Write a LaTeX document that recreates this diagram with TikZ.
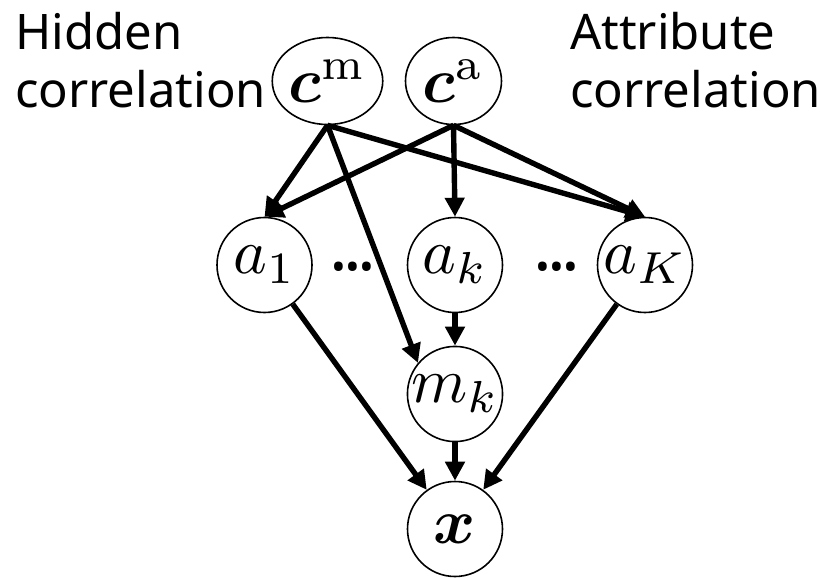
\documentclass[tikz,border=0pt]{standalone}
\usepackage{amsmath}
\usepackage{bm}
\usepackage{graphicx}
\usepackage{fontspec}
\newfontfamily\labelfont{Noto Sans}
\usetikzlibrary{arrows.meta,shapes.geometric}
\newcommand{\varlabel}[1]{\scalebox{6.4}{\normalsize$#1$}}
\newcommand{\mydotrow}{.\kern-5pt.\kern-5pt.}
\begin{document}
\begin{tikzpicture}[x=1pt,y=-1pt,
  var/.style={draw,circle,line width=1.6pt,minimum size=95pt,inner sep=0pt},
  topvar/.style={draw,ellipse,line width=1.6pt,minimum width=96pt,minimum height=87pt,inner sep=0pt},
  lbl/.style={anchor=base west,inner sep=0pt,font=\labelfont\fontsize{49}{57}\selectfont},
  dots/.style={inner sep=0pt,font=\labelfont\fontsize{70}{70}\selectfont\bfseries},
  edge/.style={line width=5.4pt,-{Triangle[length=19pt,width=19pt]}}]
\useasboundingbox (0,0) rectangle (820,578);
\fill[white] (0,0) rectangle (820,578);
\node[topvar] (cm) at (327.5,81) {\varlabel{\bm{c}^{\mathrm{m}}}};
\node[topvar] (ca) at (453.5,81) {\varlabel{\bm{c}^{\mathrm{a}}}};
\node[var] (a1) at (264.5,265) {\varlabel{a_1}};
\node[var] (ak) at (455,265) {\varlabel{a_k}};
\node[var] (aK) at (645,265) {\varlabel{a_K}};
\node[var] (mk) at (455,394) {\varlabel{m_k}};
\node[var] (x) at (455,529) {\varlabel{\bm{x}}};
\node[dots] (d1) at (353,267) {\mydotrow};
\node[dots] (d2) at (557,267) {\mydotrow};
\node[lbl] (h1) at (15,50) {Hidden};
\node[lbl] (h2) at (15,107) {correlation};
\node[lbl] (t1) at (570,50) {Attribute};
\node[lbl] (t2) at (570,107) {correlation};
\draw[edge] (cm.south) -- (a1.north);
\draw[edge] (cm.south) -- (mk.140);
\draw[edge] (cm.south) -- (aK.north);
\draw[edge] (ca.south) -- (a1.north);
\draw[edge] (ca.south) -- (ak.north);
\draw[edge] (ca.south) -- (aK.north);
\draw[edge] (ak) -- (mk);
\draw[edge] (mk) -- (x);
\draw[edge] (a1) -- (x);
\draw[edge] (aK) -- (x);
\end{tikzpicture}
\end{document}
